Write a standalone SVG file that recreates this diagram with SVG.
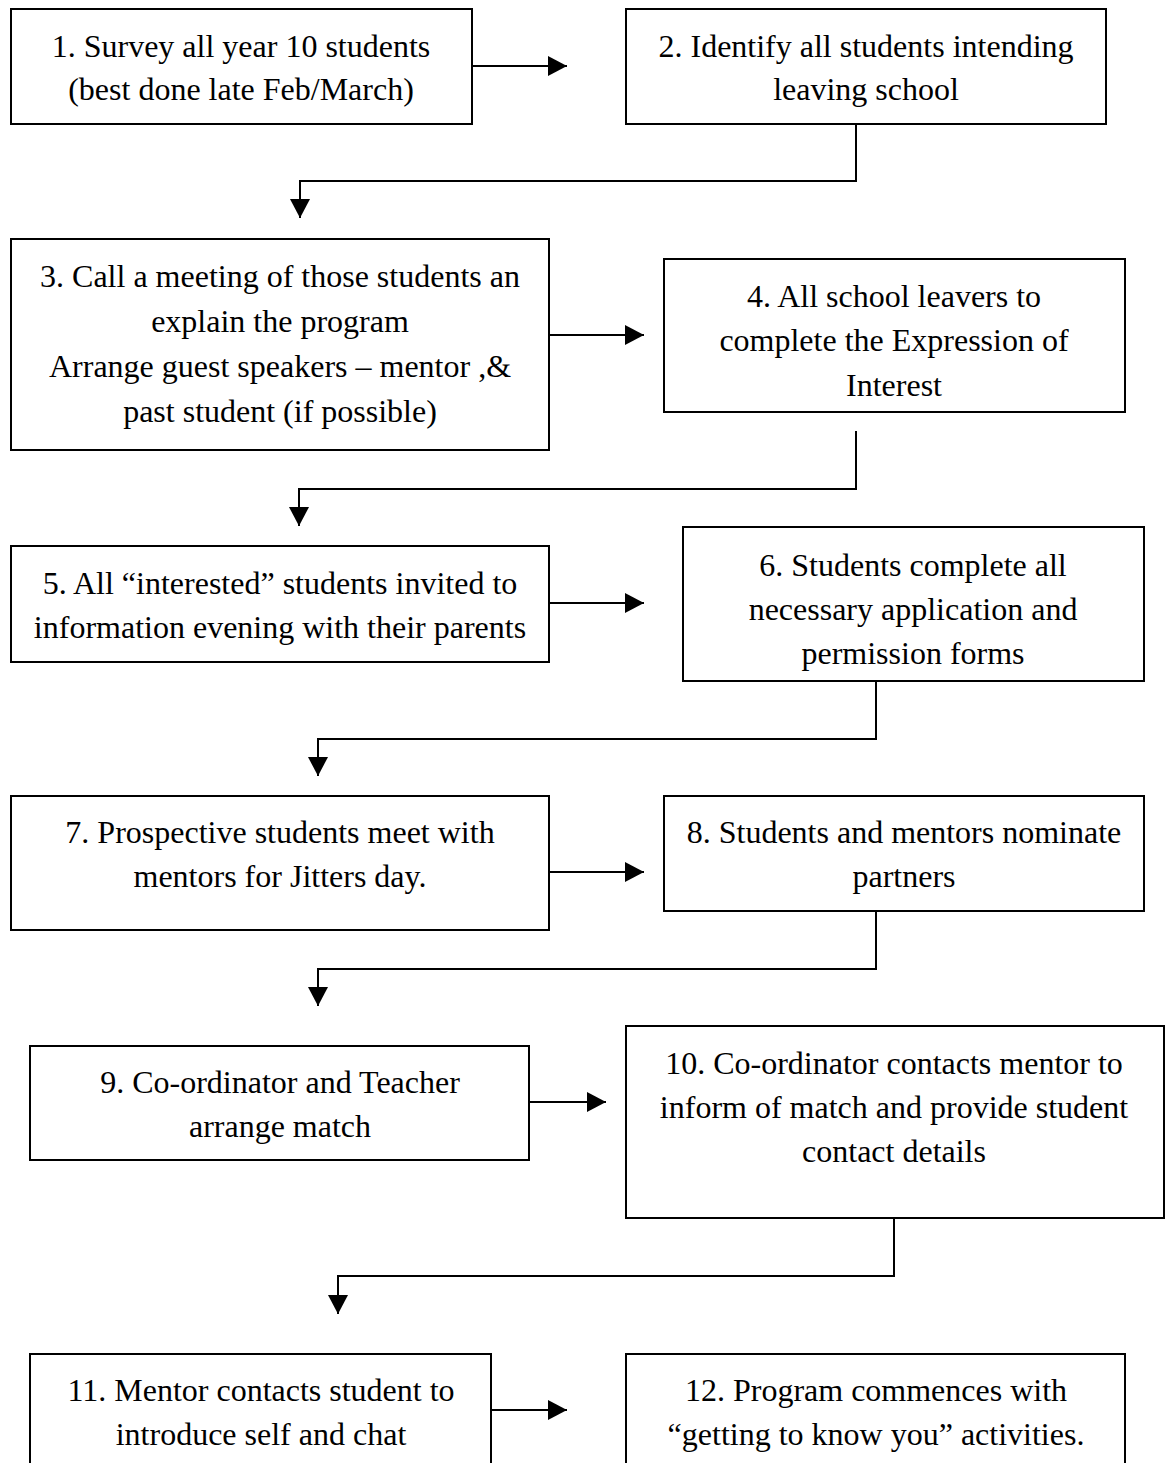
<svg xmlns="http://www.w3.org/2000/svg" width="1170" height="1463" viewBox="0 0 1170 1463">
<style>
.box{fill:#fff;stroke:#000;stroke-width:2}
.t{font-family:"Liberation Serif","Times New Roman",serif;font-size:32px;fill:#000;text-anchor:middle}
.c{fill:none;stroke:#000;stroke-width:2}
</style>
<defs>
<marker id="ah" markerUnits="userSpaceOnUse" markerWidth="20" markerHeight="20" refX="19" refY="10" orient="auto">
<path d="M0,0 L19,10 L0,20 z" fill="#000"/>
</marker>
</defs>
<rect width="1170" height="1463" fill="#fff"/>
<g id="connectors">
<path class="c" d="M472,66 H567" marker-end="url(#ah)"/>
<path class="c" d="M856,124 V181 H300 V218" marker-end="url(#ah)"/>
<path class="c" d="M549,335 H644" marker-end="url(#ah)"/>
<path class="c" d="M856,431 V489 H299 V526" marker-end="url(#ah)"/>
<path class="c" d="M549,603 H644" marker-end="url(#ah)"/>
<path class="c" d="M876,681 V739 H318 V776" marker-end="url(#ah)"/>
<path class="c" d="M549,872 H644" marker-end="url(#ah)"/>
<path class="c" d="M876,911 V969 H318 V1006" marker-end="url(#ah)"/>
<path class="c" d="M529,1102 H606" marker-end="url(#ah)"/>
<path class="c" d="M894,1218 V1276 H338 V1314" marker-end="url(#ah)"/>
<path class="c" d="M491,1410 H567" marker-end="url(#ah)"/>
</g>
<g id="n1"><rect class="box" x="11" y="9" width="461" height="115"/>
<text class="t" x="241" y="57">1. Survey all year 10 students</text>
<text class="t" x="241" y="100">(best done late Feb/March)</text></g>
<g id="n2"><rect class="box" x="626" y="9" width="480" height="115"/>
<text class="t" x="866" y="57">2. Identify all students intending</text>
<text class="t" x="866" y="100">leaving school</text></g>
<g id="n3"><rect class="box" x="11" y="239" width="538" height="211"/>
<text class="t" x="280" y="287">3. Call a meeting of those students an</text>
<text class="t" x="280" y="332">explain the program</text>
<text class="t" x="280" y="377">Arrange guest speakers – mentor ,&amp;</text>
<text class="t" x="280" y="422">past student (if possible)</text></g>
<g id="n4"><rect class="box" x="664" y="259" width="461" height="153"/>
<text class="t" x="894" y="307">4. All school leavers to</text>
<text class="t" x="894" y="351">complete the Expression of</text>
<text class="t" x="894" y="396">Interest</text></g>
<g id="n5"><rect class="box" x="11" y="546" width="538" height="116"/>
<text class="t" x="280" y="594">5. All “interested” students invited to</text>
<text class="t" x="280" y="638">information evening with their parents</text></g>
<g id="n6"><rect class="box" x="683" y="527" width="461" height="154"/>
<text class="t" x="913" y="576">6. Students complete all</text>
<text class="t" x="913" y="620">necessary application and</text>
<text class="t" x="913" y="664">permission forms</text></g>
<g id="n7"><rect class="box" x="11" y="796" width="538" height="134"/>
<text class="t" x="280" y="843">7. Prospective students meet with</text>
<text class="t" x="280" y="887">mentors for Jitters day.</text></g>
<g id="n8"><rect class="box" x="664" y="796" width="480" height="115"/>
<text class="t" x="904" y="843">8. Students and mentors nominate</text>
<text class="t" x="904" y="887">partners</text></g>
<g id="n9"><rect class="box" x="30" y="1046" width="499" height="114"/>
<text class="t" x="280" y="1093">9. Co-ordinator and Teacher</text>
<text class="t" x="280" y="1137">arrange match</text></g>
<g id="n10"><rect class="box" x="626" y="1026" width="538" height="192"/>
<text class="t" x="894" y="1074">10. Co-ordinator contacts mentor to</text>
<text class="t" x="894" y="1118">inform of match and provide student</text>
<text class="t" x="894" y="1162">contact details</text></g>
<g id="n11"><rect class="box" x="30" y="1354" width="461" height="130"/>
<text class="t" x="261" y="1401">11. Mentor contacts student to</text>
<text class="t" x="261" y="1445">introduce self and chat</text></g>
<g id="n12"><rect class="box" x="626" y="1354" width="499" height="130"/>
<text class="t" x="876" y="1401">12. Program commences with</text>
<text class="t" x="876" y="1445">“getting to know you” activities.</text></g>
</svg>
